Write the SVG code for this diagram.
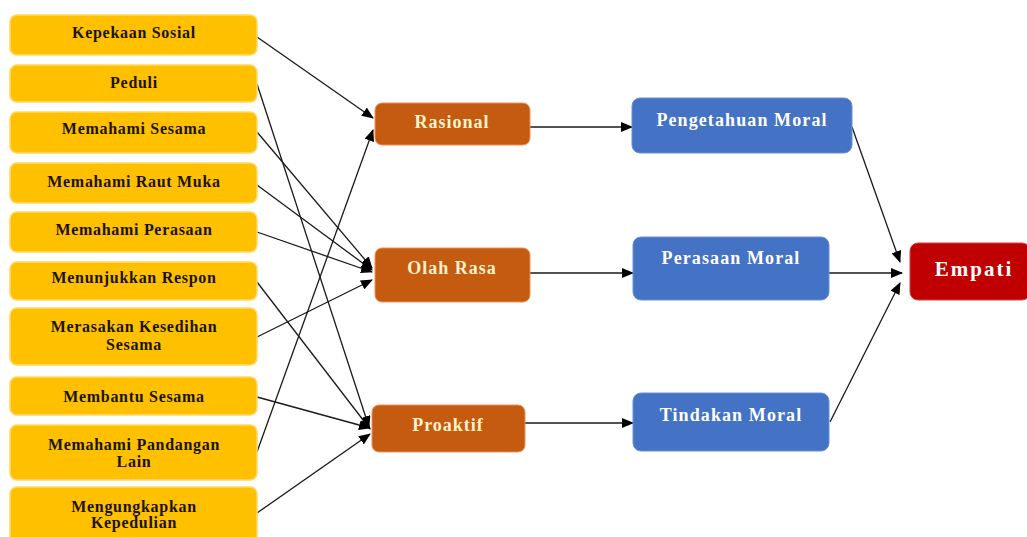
<svg xmlns="http://www.w3.org/2000/svg" width="1027" height="537" viewBox="0 0 1027 537">
<style>
.y rect{fill:#FFC000;stroke:#FFD966;stroke-width:1.5}
.y text{font-family:"Liberation Serif",serif;font-weight:bold;font-size:16px;letter-spacing:0.7px;fill:#1b1300;text-anchor:middle}
.o rect{fill:#C55A11;stroke:#E8935A;stroke-width:1}
.o text{font-family:"Liberation Serif",serif;font-weight:bold;font-size:18px;letter-spacing:1px;fill:#FFF2CC;text-anchor:middle}
.b rect{fill:#4472C4;stroke:#6A8FD6;stroke-width:1}
.b text{font-family:"Liberation Serif",serif;font-weight:bold;font-size:18px;letter-spacing:1.1px;fill:#FFFFFF;text-anchor:middle}
.r rect{fill:#C00000;stroke:#D94040;stroke-width:1}
.r text{font-family:"Liberation Serif",serif;font-weight:bold;font-size:21px;letter-spacing:2px;fill:#FFFFFF;text-anchor:middle}
#connectors line{stroke:#1a1a1a;stroke-width:1.3;marker-end:url(#ah)}
</style>
<defs>
<marker id="ah" markerUnits="userSpaceOnUse" markerWidth="12" markerHeight="10" refX="11" refY="5" orient="auto">
<path d="M0,0 L12,5 L0,10 Z" fill="#000"/>
</marker>
</defs>
<rect width="1027" height="537" fill="#fff"/>
<g id="connectors">
<line x1="257" y1="37" x2="373" y2="118"/>
<line x1="257" y1="84" x2="369" y2="427"/>
<line x1="257" y1="132" x2="372" y2="268"/>
<line x1="257" y1="185" x2="372" y2="270"/>
<line x1="257" y1="232" x2="372" y2="272"/>
<line x1="257" y1="282" x2="370" y2="429"/>
<line x1="257" y1="337" x2="372" y2="280"/>
<line x1="257" y1="397" x2="370" y2="428"/>
<line x1="257" y1="452" x2="373" y2="130"/>
<line x1="257" y1="513" x2="370" y2="434"/>
<line x1="530" y1="127" x2="632" y2="127"/>
<line x1="530" y1="273" x2="633" y2="273"/>
<line x1="525" y1="423" x2="633" y2="423"/>
<line x1="852" y1="127" x2="900" y2="262"/>
<line x1="829" y1="273" x2="902" y2="273"/>
<line x1="830" y1="422" x2="900" y2="283"/>
</g>
<g id="kepekaan-sosial" class="y"><rect x="10" y="15" width="247" height="40" rx="7"/><text x="134" y="38">Kepekaan Sosial</text></g>
<g id="peduli" class="y"><rect x="10" y="65" width="247" height="37" rx="7"/><text x="134" y="88">Peduli</text></g>
<g id="memahami-sesama" class="y"><rect x="10" y="112" width="247" height="41" rx="7"/><text x="134" y="134">Memahami Sesama</text></g>
<g id="memahami-raut-muka" class="y"><rect x="10" y="163" width="247" height="40" rx="7"/><text x="134" y="187">Memahami Raut Muka</text></g>
<g id="memahami-perasaan" class="y"><rect x="10" y="212" width="247" height="40" rx="7"/><text x="134" y="235">Memahami Perasaan</text></g>
<g id="menunjukkan-respon" class="y"><rect x="10" y="262" width="247" height="38" rx="7"/><text x="134" y="283">Menunjukkan Respon</text></g>
<g id="merasakan-kesedihan" class="y"><rect x="10" y="308" width="247" height="57" rx="7"/><text x="134" y="332">Merasakan Kesedihan</text><text x="134" y="350">Sesama</text></g>
<g id="membantu-sesama" class="y"><rect x="10" y="377" width="247" height="38" rx="7"/><text x="134" y="402">Membantu Sesama</text></g>
<g id="memahami-pandangan" class="y"><rect x="10" y="425" width="247" height="55" rx="7"/><text x="134" y="450">Memahami Pandangan</text><text x="134" y="467">Lain</text></g>
<g id="mengungkapkan" class="y"><rect x="10" y="487" width="247" height="56" rx="7"/><text x="134" y="512">Mengungkapkan</text><text x="134" y="528">Kepedulian</text></g>
<g id="rasional" class="o"><rect x="375" y="103" width="155" height="42" rx="7"/><text x="452" y="128">Rasional</text></g>
<g id="olah-rasa" class="o"><rect x="375" y="248" width="155" height="54" rx="7"/><text x="452" y="274">Olah Rasa</text></g>
<g id="proaktif" class="o"><rect x="372" y="405" width="153" height="47" rx="7"/><text x="448" y="431">Proaktif</text></g>
<g id="pengetahuan-moral" class="b"><rect x="632" y="98" width="220" height="55" rx="8"/><text x="742" y="126">Pengetahuan Moral</text></g>
<g id="perasaan-moral" class="b"><rect x="633" y="237" width="196" height="63" rx="8"/><text x="731" y="264">Perasaan Moral</text></g>
<g id="tindakan-moral" class="b"><rect x="633" y="393" width="196" height="58" rx="8"/><text x="731" y="421">Tindakan Moral</text></g>
<g id="empati" class="r"><rect x="910" y="243" width="120" height="57" rx="8"/><text x="974" y="276">Empati</text></g>
</svg>
